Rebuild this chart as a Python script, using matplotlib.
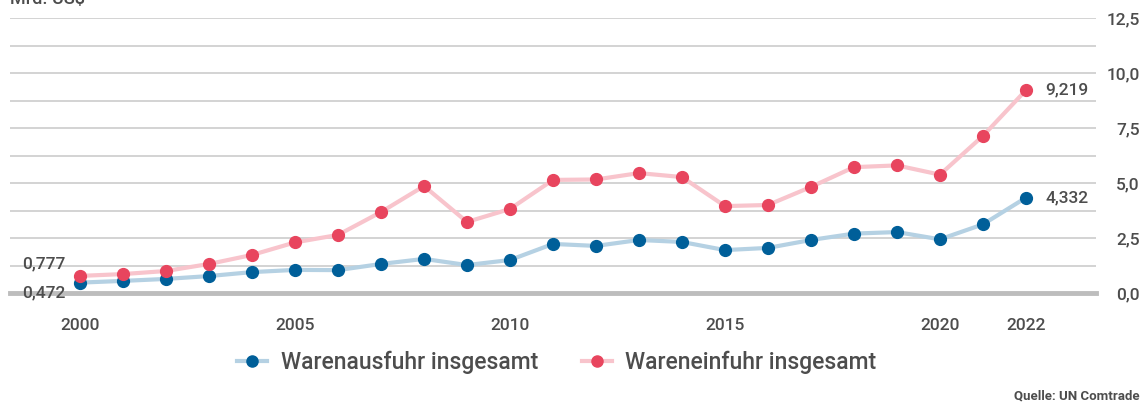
import matplotlib
matplotlib.use('Agg')
import matplotlib.pyplot as plt
from matplotlib.lines import Line2D
import numpy as np

plt.rcParams['font.family'] = ['Roboto', 'DejaVu Sans']

years = list(range(2000, 2023))
ausfuhr = [0.472, 0.55, 0.64, 0.77, 0.95, 1.05, 1.04, 1.32, 1.55, 1.27, 1.50, 2.23, 2.14,
           2.41, 2.32, 1.95, 2.05, 2.41, 2.70, 2.77, 2.44, 3.12, 4.332]
einfuhr = [0.777, 0.86, 1.00, 1.32, 1.73, 2.30, 2.64, 3.68, 4.86, 3.23, 3.82, 5.14, 5.16,
           5.45, 5.27, 3.95, 4.00, 4.82, 5.72, 5.80, 5.38, 7.14, 9.219]
xtick_years = [2000, 2005, 2010, 2015, 2020, 2022]
ytick_vals = [0, 2.5, 5.0, 7.5, 10.0, 12.5]

txt = '#4d4d4d'
blue, blue_l = '#005f99', '#b5d1e3'
red, red_l = '#e8455e', '#f8c4cc'

fig = plt.figure(figsize=(11.47, 4.05), dpi=100)
ax = fig.add_axes([10 / 1147, 1 - 293 / 405, 1086 / 1147, 275 / 405])
ax.set_xlim(1998.37, 2023.63)
ax.set_ylim(0, 12.5)

# Gitterlinien alle 1,25
for g in np.arange(1.25, 12.6, 1.25):
    ax.axhline(g, color='#cccccc', lw=1.2, zorder=0)
ax.axhline(0, color='#bdbdbd', lw=3.5, zorder=1, clip_on=False)

ax.plot(years, ausfuhr, color=blue_l, lw=3, zorder=2)
ax.plot(years, ausfuhr, 'o', color=blue, ms=8.5, zorder=3)
ax.plot(years, einfuhr, color=red_l, lw=3, zorder=2)
ax.plot(years, einfuhr, 'o', color=red, ms=8.5, zorder=3)

for s in ax.spines.values():
    s.set_visible(False)
ax.set_xticks(xtick_years)
ax.set_xticklabels([str(y) for y in xtick_years], fontsize=12.5, color=txt, fontweight='medium')
ax.tick_params(axis='x', length=0, pad=18)
ax.yaxis.tick_right()
ax.set_yticks(ytick_vals)
ax.set_yticklabels([f'{v:.1f}'.replace('.', ',') for v in ytick_vals], fontsize=12.5,
                   color=txt, fontweight='medium', ha='right')
ax.tick_params(axis='y', length=0, pad=31.5)

def fmt(v):
    return f'{v:.3f}'.replace('.', ',')

kw = dict(fontsize=12.5, color=txt, va='center', fontweight='medium')
ax.text(1998.65, einfuhr[0] + 0.55, fmt(einfuhr[0]), **kw)
ax.text(1998.65, 0.02, fmt(ausfuhr[0]), **kw)
ax.text(2022.45, einfuhr[-1], fmt(einfuhr[-1]), **kw)
ax.text(2022.45, ausfuhr[-1], fmt(ausfuhr[-1]), **kw)

# Einheit oben links (im Original am Rand angeschnitten)
fig.text(10 / 1147, 1 + 1 / 405, 'Mrd. US$', fontsize=13, color=txt, va='center', fontweight='medium')

handles = [
    Line2D([], [], color=blue_l, lw=3, marker='o', markerfacecolor=blue, markeredgecolor=blue, ms=8),
    Line2D([], [], color=red_l, lw=3, marker='o', markerfacecolor=red, markeredgecolor=red, ms=8),
]
fig.legend(handles, ['Warenausfuhr insgesamt', 'Wareneinfuhr insgesamt'],
           loc='center', bbox_to_anchor=(557 / 1147, 1 - 362 / 405), ncol=2, frameon=False,
           labelcolor=txt, handlelength=1.3, columnspacing=1.9, handletextpad=0.6,
           prop={'size': 16.5, 'weight': 'medium'})

fig.text(1140 / 1147, 1 - 396 / 405, 'Quelle: UN Comtrade', fontsize=9.5, color=txt,
         ha='right', va='center', fontweight='bold')

fig.savefig('out.png', dpi=100)
